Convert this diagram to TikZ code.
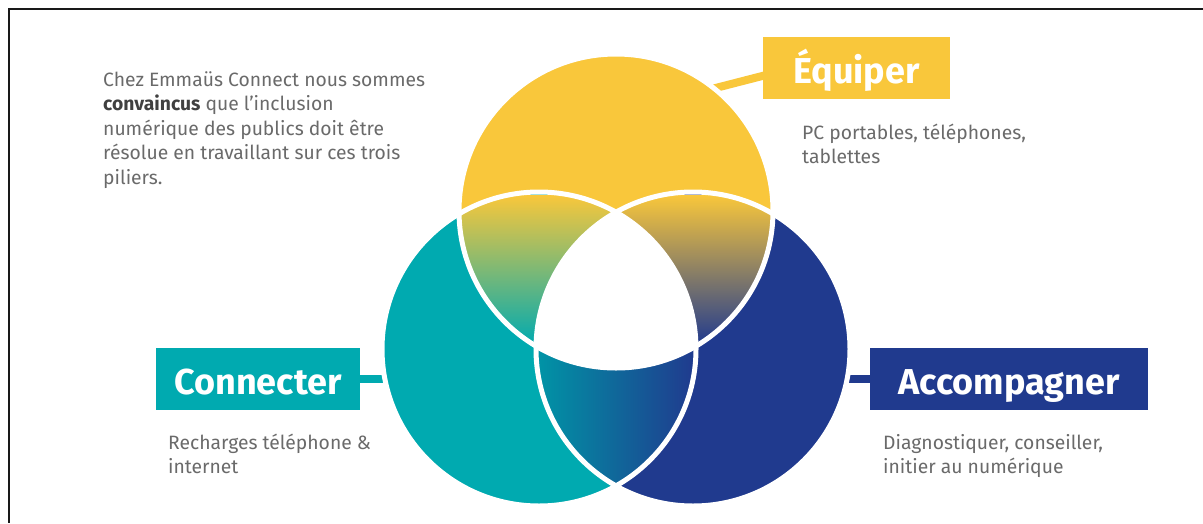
\documentclass[tikz,border=0pt]{standalone}
\usepackage{fontspec}
\setmainfont{Fira Sans}
\definecolor{cY}{HTML}{F9C73B}
\definecolor{cT}{HTML}{00AAB0}
\definecolor{cN}{HTML}{203A8E}
\definecolor{cTd}{HTML}{0094A6}
\definecolor{txt}{HTML}{6A6A6A}
\definecolor{txtb}{HTML}{404040}
\begin{document}
\begin{tikzpicture}[x=1pt,y=-1pt,
  headbox/.style={fill=#1, text=white, font=\fontsize{36}{36}\selectfont\bfseries,
    text height=46pt, text depth=16pt, inner xsep=0pt, inner ysep=0pt},
  bodytext/.style={text=txt, font=\fontsize{19.3}{24.5}\selectfont, anchor=base west, inner sep=0pt},
  link/.style={draw=#1, line width=8pt},
  gap/.style={draw=white, line width=5pt},
  frameline/.style={draw=black!90, line width=2.5pt}]
\useasboundingbox (0,0) rectangle (1203,523);
\fill[white] (0,0) rectangle (1203,523);
\draw[frameline] (1203,9) -- (9,9) -- (9,523);

% circle centres
\coordinate (Y) at (616,211);
\coordinate (T) at (539,349);
\coordinate (N) at (693,349);
\def\rr{157pt}

% label boxes
\node[headbox=cY, minimum width=187pt] (equip) at (856.5,68) {Équiper};
\node[headbox=cT, minimum width=204pt] (conn) at (258,379) {Connecter};
\node[headbox=cN, minimum width=278pt] (acc) at (1009,379) {Accompagner};

% connector ends inside circles
\coordinate (ya) at (700,92);
\coordinate (yb) at (770,74);
\coordinate (ta) at (400,379);
\coordinate (na) at (835,379);

\draw[link=cY] (ya) -- (yb);
\draw[link=cT] (ta) -- (conn.east);
\draw[link=cN] (na) -- (acc.west);

% circle fills
\fill[cY] (Y) circle[radius=\rr];
\fill[cT] (T) circle[radius=\rr];
\fill[cN] (N) circle[radius=\rr];

% yellow & teal
\begin{scope}
\clip (Y) circle[radius=\rr];
\clip (T) circle[radius=\rr];
\shade[top color=cY, bottom color=cT] (380,195) rectangle (720,345);
\end{scope}
% yellow & navy
\begin{scope}
\clip (Y) circle[radius=\rr];
\clip (N) circle[radius=\rr];
\shade[top color=cY, bottom color=cN] (500,195) rectangle (860,345);
\end{scope}
% teal & navy
\begin{scope}
\clip (T) circle[radius=\rr];
\clip (N) circle[radius=\rr];
\shade[left color=cTd, right color=cN] (537,200) rectangle (695,500);
\end{scope}
% all three
\begin{scope}
\clip (Y) circle[radius=\rr];
\clip (T) circle[radius=\rr];
\fill[white] (N) circle[radius=\rr];
\end{scope}

% white separating outlines
\draw[gap] (Y) circle[radius=\rr];
\draw[gap] (T) circle[radius=\rr];
\draw[gap] (N) circle[radius=\rr];

% redraw boxes on top
\node[headbox=cY, minimum width=187pt] at (equip) {Équiper};
\node[headbox=cT, minimum width=204pt] at (conn) {Connecter};
\node[headbox=cN, minimum width=278pt] at (acc) {Accompagner};

% texts
\node[bodytext] (intro) at (103,86) {\parbox[t]{360pt}{\raggedright
Chez Emmaüs Connect nous sommes\\
{\bfseries\color{txtb}convaincus} que l’inclusion\\
numérique des publics doit être\\
résolue en travaillant sur ces trois\\
piliers.}};
\node[bodytext] (equiptext) at (802,139) {\parbox[t]{300pt}{\raggedright
PC portables, téléphones,\\
tablettes}};
\node[bodytext] (conntext) at (168,449) {\parbox[t]{300pt}{\raggedright
Recharges téléphone \&\\
internet}};
\node[bodytext] (acctext) at (883,449) {\parbox[t]{300pt}{\raggedright
Diagnostiquer, conseiller,\\
initier au numérique}};
\end{tikzpicture}
\end{document}
